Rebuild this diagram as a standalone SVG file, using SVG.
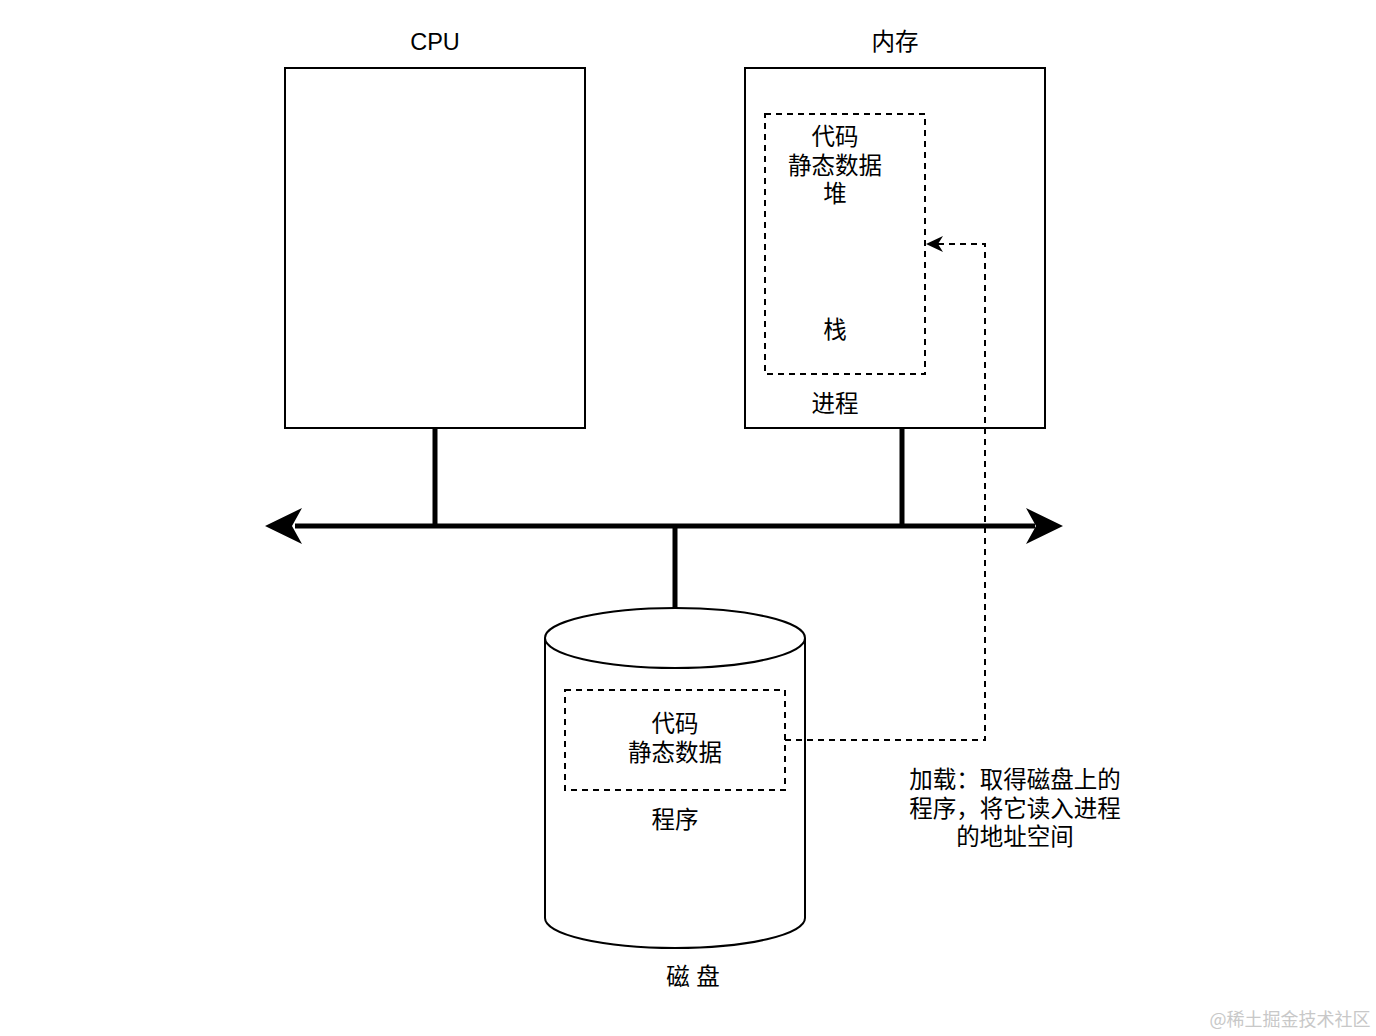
<svg xmlns="http://www.w3.org/2000/svg" width="1376" height="1036" viewBox="0 0 1376 1036">
<defs>
<style>
.box{fill:#fff;stroke:#000;stroke-width:2}
.dash{fill:none;stroke:#000;stroke-width:2;stroke-dasharray:6 5}
.t{font-family:"Liberation Sans","Noto Sans CJK SC",sans-serif;font-size:23.5px;fill:#000;text-anchor:middle}
.bus{stroke:#000;stroke-width:5;fill:none}
</style>
</defs>
<rect width="1376" height="1036" fill="#fff"/>
<g id="cpu">
<rect class="box" x="285" y="68" width="300" height="360"/>
<text class="t" x="435" y="50">CPU</text>
</g>
<g id="memory">
<rect class="box" x="745" y="68" width="300" height="360"/>
<text class="t" x="895" y="50">内存</text>
</g>
<g id="process">
<rect class="dash" x="765" y="114" width="160" height="260"/>
<text class="t" x="835" y="145">代码</text>
<text class="t" x="835" y="174">静态数据</text>
<text class="t" x="835" y="202">堆</text>
<text class="t" x="835" y="338">栈</text>
<text class="t" x="835" y="412">进程</text>
</g>
<g id="disk">
<path class="box" d="M545,638 L545,918 A130,30 0 0 0 805,918 L805,638"/>
<ellipse class="box" cx="675" cy="638" rx="130" ry="30"/>
<text class="t" x="693" y="985">磁 盘</text>
</g>
<g id="program">
<rect class="dash" x="565" y="690" width="220" height="100"/>
<text class="t" x="675" y="732">代码</text>
<text class="t" x="675" y="761">静态数据</text>
<text class="t" x="675" y="828">程序</text>
</g>
<g id="connectors">
<line class="bus" x1="435" y1="428" x2="435" y2="526"/>
<line class="bus" x1="902" y1="428" x2="902" y2="526"/>
<line class="bus" x1="675" y1="526" x2="675" y2="608"/>
<line class="bus" x1="295" y1="526" x2="1035" y2="526"/>
<path d="M265,526 L302,508 L292,526 L302,544 Z" fill="#000"/>
<path d="M1063,526 L1026,508 L1036,526 L1026,544 Z" fill="#000"/>
<path d="M785,740 L985,740 L985,244 L928,244" fill="none" stroke="#000" stroke-width="2" stroke-dasharray="6 5"/>
<path d="M926,244 L943,236 L938,244 L943,252 Z" fill="#000"/>
</g>
<g id="label">
<text class="t" x="1015" y="788">加载：取得磁盘上的</text>
<text class="t" x="1015" y="817">程序，将它读入进程</text>
<text class="t" x="1015" y="845">的地址空间</text>
</g>
<text x="1290" y="1026" style="font-family:'Noto Sans CJK SC',sans-serif;font-size:18px;fill:#c8c8c8;text-anchor:middle">@稀土掘金技术社区</text>
</svg>
